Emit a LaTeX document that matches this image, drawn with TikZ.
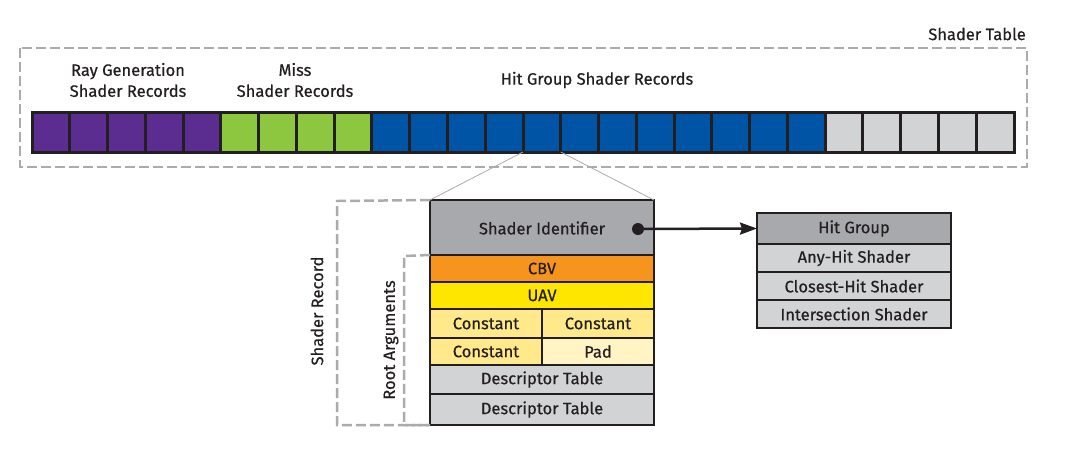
\documentclass[tikz,border=0pt]{standalone}
\usepackage{fontspec}
\setmainfont{Fira Sans}[FakeBold=0.6]
\usetikzlibrary{arrows.meta}
\definecolor{txt}{HTML}{231F20}
\definecolor{purp}{HTML}{5C2D91}
\definecolor{grn}{HTML}{8DC63F}
\definecolor{blu}{HTML}{0054A6}
\definecolor{lgray}{HTML}{D1D3D4}
\definecolor{hgray}{HTML}{A7A9AC}
\definecolor{orng}{HTML}{F7941D}
\definecolor{yel}{HTML}{FFE600}
\definecolor{cst}{HTML}{FFE98A}
\definecolor{pad}{HTML}{FFF4C4}
\definecolor{dgray}{HTML}{ABABAB}
\tikzset{
  cell/.style={draw=txt, line width=3pt, anchor=north west, minimum width=37.77pt, minimum height=40pt, inner sep=0pt, outer sep=0pt},
  rowbox/.style={draw=txt, line width=2.5pt, anchor=north west, inner sep=0pt, outer sep=0pt, text=txt},
  dashbox/.style={draw=dgray, line width=2.5pt, dash pattern=on 10pt off 4pt},
  zoomline/.style={draw=dgray, line width=0.8pt},
  lbl/.style={text=txt, inner sep=0pt, align=center}
}
\begin{document}
\begin{tikzpicture}[x=1pt,y=-1pt, font=\fontsize{16.5}{21}\selectfont]
\useasboundingbox (0,0) rectangle (1071,459);
% outer shader table box
\draw[dashbox] (20,48) rectangle (1027,167);
\node[lbl, anchor=east] (st) at (1026,34) {Shader Table};
% cells
\foreach \i in {0,...,4} \node[cell, fill=purp] (c\i) at ({32+37.77*\i},112) {};
\foreach \i in {5,...,8} \node[cell, fill=grn] (c\i) at ({32+37.77*\i},112) {};
\foreach \i in {9,...,20} \node[cell, fill=blu] (c\i) at ({32+37.77*\i},112) {};
\foreach \i in {21,...,25} \node[cell, fill=lgray] (c\i) at ({32+37.77*\i},112) {};
% group labels
\node[lbl] (rg) at (128,80) {Ray Generation\\Shader Records};
\node[lbl] (ms) at (295,80) {Miss\\Shader Records};
\node[lbl] (hgsr) at (597,80) {Hit Group Shader Records};
% shader record
\node[rowbox, fill=hgray, minimum width=224pt, minimum height=55pt] (sid) at (430,200) {};
\node[lbl] (sidt) at (542,228) {Shader Identifier};
\node[rowbox, fill=orng, minimum width=224pt, minimum height=27pt] (cbv) at (430,255) {CBV};
\node[rowbox, fill=yel, minimum width=224pt, minimum height=27pt] (uav) at (430,282) {UAV};
\node[rowbox, fill=cst, minimum width=112pt, minimum height=29pt] (k1) at (430,309) {Constant};
\node[rowbox, fill=cst, minimum width=112pt, minimum height=29pt] (k2) at (542,309) {Constant};
\node[rowbox, fill=cst, minimum width=112pt, minimum height=27pt] (k3) at (430,338) {Constant};
\node[rowbox, fill=pad, minimum width=112pt, minimum height=27pt] (pd) at (542,338) {Pad};
\node[rowbox, fill=lgray, minimum width=224pt, minimum height=29pt] (dt1) at (430,365) {Descriptor Table};
\node[rowbox, fill=lgray, minimum width=224pt, minimum height=31pt] (dt2) at (430,394) {Descriptor Table};
% zoom lines
\draw[zoomline] (c13.south west) -- (sid.north west);
\draw[zoomline] (c13.south east) -- (sid.north east);
% dashed brackets
\draw[dashbox] (sid.north west) -- (337,201) -- (337,425) -- (dt2.south west);
\draw[dashbox] (cbv.north west) -- (404,256) -- (404,425) -- (dt2.south west);
\node[lbl, rotate=90] (srl) at (317,311) {Shader Record};
\node[lbl, rotate=90] (ral) at (391,340) {Root Arguments};
% hit group
\node[rowbox, fill=hgray, minimum width=194pt, minimum height=31pt] (hg) at (757,213) {Hit Group};
\node[rowbox, fill=lgray, minimum width=194pt, minimum height=28pt] (ah) at (757,244) {Any-Hit Shader};
\node[rowbox, fill=lgray, minimum width=194pt, minimum height=28pt] (ch) at (757,272) {Closest-Hit Shader};
\node[rowbox, fill=lgray, minimum width=194pt, minimum height=28pt] (is) at (757,300) {Intersection Shader};
% pointer
\coordinate (dot) at (638,229);
\fill[txt] (dot) circle (6pt);
\draw[txt, line width=2.5pt, -{Stealth[length=17pt,width=12pt,inset=2pt]}] (dot) -- (hg.west);
\end{tikzpicture}
\end{document}
